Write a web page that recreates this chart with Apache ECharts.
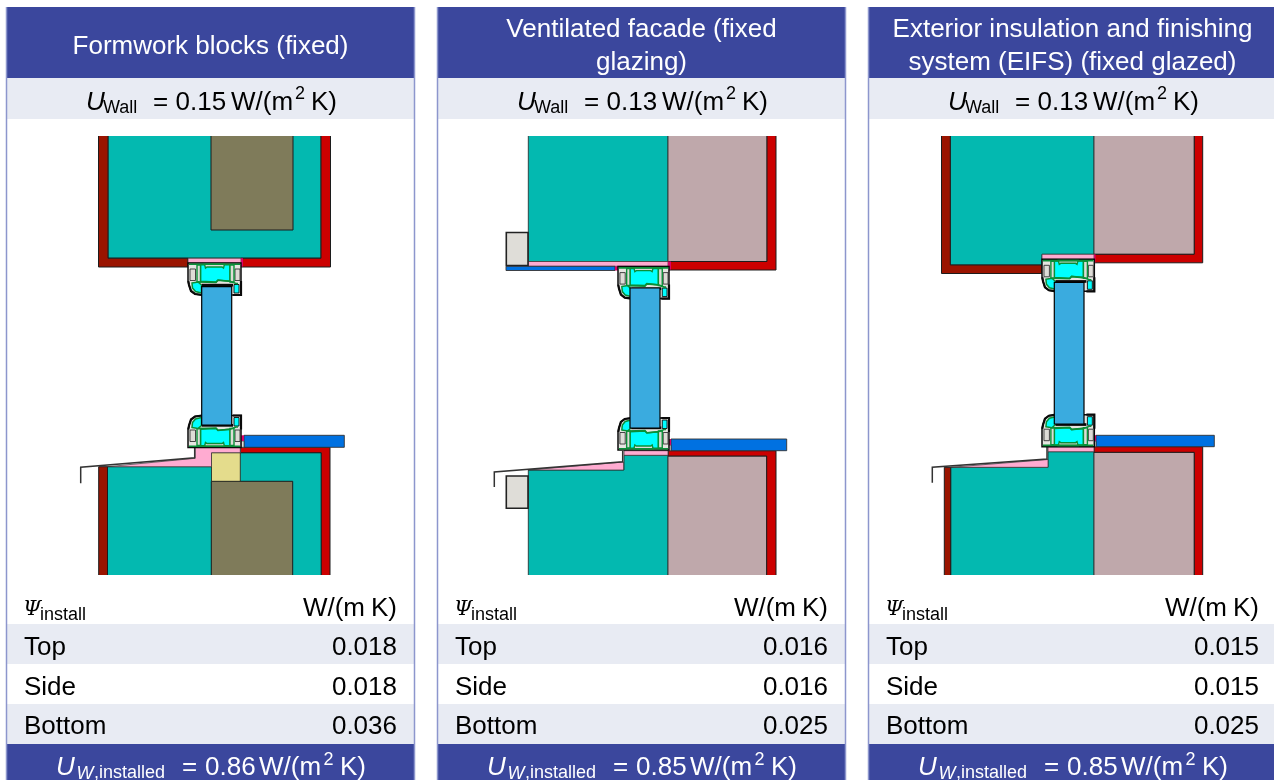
<!DOCTYPE html>
<html><head><meta charset="utf-8">
<style>html,body{margin:0;padding:0;background:#fff}#c{width:1274px;height:780px}</style>
<script src="https://cdn.jsdelivr.net/npm/echarts@6/dist/echarts.min.js"></script>
</head><body><div id="c"></div>
<script>
// ---------- values ----------
const panelLeft = [6.5, 437.5, 868.5];
const titles = [["Formwork blocks (fixed)"], ["Ventilated facade (fixed", "glazing)"], ["Exterior insulation and finishing", "system (EIFS) (fixed glazed)"]];
const uWall = ["0.15", "0.13", "0.13"];
const uInstalled = ["0.86", "0.85", "0.85"];
const rowNames = ["Top", "Side", "Bottom"];
const psiTop = ["0.018", "0.016", "0.015"];
const psiSide = ["0.018", "0.016", "0.015"];
const psiBottom = ["0.036", "0.025", "0.025"];

// ---------- section geometry (drawing units), one list per material ----------
const p1Teal = [
  [[108,130],[321,130],[321,258],[108,258]],
  [[107.5,466.7],[211.7,466.7],[211.7,452.7],[321.3,452.7],[321.3,580],[107.5,580]]];
const p1Olive = [
  [[211,130],[293,130],[293,230],[211,230]],
  [[211.3,481.3],[292.7,481.3],[292.7,580],[211.3,580]]];
const p1Yellow = [[[211.5,452.7],[240.3,452.7],[240.3,481.3],[211.5,481.3]]];
const p1Dark = [
  [[98.5,130],[108,130],[108,258.3],[188,258.3],[188,267],[98.5,267]],
  [[98.7,466.7],[107.5,466.7],[107.5,580],[98.7,580]]];
const p1Red = [
  [[321,130],[330.5,130],[330.5,267],[241,267],[241,258.3],[321,258.3]],
  [[240.3,447.3],[330,447.3],[330,580],[321.3,580],[321.3,452.7],[240.3,452.7]]];
const p1Pink = [
  [[188,258.3],[241,258.3],[241,263],[188,263]],
  [[195,447.3],[240.3,447.3],[240.3,452.7],[211.5,452.7],[211.5,466.7],[107.5,466.7],[195,458.3]]];
const p1Sill = [[[244,435.3],[344.3,435.3],[344.3,447.3],[244,447.3]]];
const p1Magenta = [[[241,258.3],[243,258.3],[243,266.5],[241,266.5]],[[241,435.3],[244,435.3],[244,441],[241,441]]];
const p1Grey = [[[241,441],[244,441],[244,447.3],[241,447.3]]];
const p1Flash = [[[80.7,483.3],[80.7,467.3],[194.7,457.7],[194.7,447.3]]];
const p1Glass = [[[201.7,286.7],[231.7,286.7],[231.7,425],[201.7,425]]];

const p2Teal = [
  [[528.3,130],[668,130],[668,261.5],[528.3,261.5]],
  [[528.3,470],[624,470],[624,455.3],[668,455.3],[668,580],[528.3,580]]];
const p2Rose = [
  [[668,130],[767,130],[767,261.5],[668,261.5]],
  [[668,456],[766.7,456],[766.7,580],[668,580]]];
const p2Red = [
  [[767,130],[776,130],[776,270],[668,270],[668,261.5],[767,261.5]],
  [[668,450.7],[776,450.7],[776,580],[766.7,580],[766.7,456],[668,456]]];
const p2Pink = [
  [[528.3,261.5],[668,261.5],[668,266.3],[528.3,266.3]],
  [[624,450.7],[668,450.7],[668,455.3],[624,455.3]],
  [[528.3,470],[623.5,462],[623.5,470]]];
const p2Sill = [[[506,266.3],[615,266.3],[615,270.5],[506,270.5]],[[671,439],[786.7,439],[786.7,450.7],[671,450.7]]];
const p2Magenta = [[[615,266.3],[618.5,266.3],[618.5,270.5],[615,270.5]],[[668,261.5],[671,261.5],[671,269.5],[668,269.5]],[[668,439],[671,439],[671,445],[668,445]]];
const p2Grey = [[[668,445],[671,445],[671,450.7],[668,450.7]]];
const p2Box = [[[506.3,232.5],[528,232.5],[528,265.5],[506.3,265.5]],[[506.3,476],[528,476],[528,508.3],[506.3,508.3]]];
const p2Flash = [[[494.3,487],[494.3,472],[622.7,461.7],[622.7,451]]];
const p2Glass = [[[630,288],[660,288],[660,428],[630,428]]];

const p3Teal = [
  [[950.3,130],[1094,130],[1094,254.3],[1042,254.3],[1042,265],[950.3,265]],
  [[950.7,467.3],[1048,467.3],[1048,451.7],[1094,451.7],[1094,580],[950.7,580]]];
const p3Rose = [
  [[1094,130],[1194.3,130],[1194.3,254.3],[1094,254.3]],
  [[1094,452.3],[1194.3,452.3],[1194.3,580],[1094,580]]];
const p3Dark = [
  [[941.5,130],[950.3,130],[950.3,265],[1042,265],[1042,273.5],[941.5,273.5]],
  [[944.3,467.3],[950.7,467.3],[950.7,580],[944.3,580]]];
const p3Red = [
  [[1194.3,130],[1202.7,130],[1202.7,262.8],[1094,262.8],[1094,254.3],[1194.3,254.3]],
  [[1094,446.7],[1202.7,446.7],[1202.7,580],[1194.3,580],[1194.3,452.3],[1094,452.3]]];
const p3Pink = [
  [[1042,254.3],[1094,254.3],[1094,259.3],[1042,259.3]],
  [[1048,446.7],[1094,446.7],[1094,451.7],[1048,451.7]],
  [[950.7,467.3],[1048,459.5],[1048,467.3]]];
const p3Sill = [[[1096,435.3],[1214.3,435.3],[1214.3,446.7],[1096,446.7]]];
const p3Magenta = [[[1094,254.3],[1095.5,254.3],[1095.5,262.8],[1094,262.8]],[[1094,435.3],[1096,435.3],[1096,441],[1094,441]]];
const p3Grey = [[[1094,441],[1096,441],[1096,446.7],[1094,446.7]]];
const p3Flash = [[[932.3,482.7],[932.3,467.3],[1047,459],[1047,446.7]]];
const p3Glass = [[[1054.3,282.3],[1084,282.3],[1084,424],[1054.3,424]]];

// window frame profile, in its own units; placed six times below
const frameBody = [[0,0],[53,0],[53,32],[14,32],[7,31],[3,28],[1,22],[0,18]];
const frameCyanMain = [[12.5,1.8],[42,1.8],[42,18.3],[30,17],[28,19],[12.5,18.3]];
const frameCyanLeft = [[4,20],[10,19],[13.5,22],[13.5,30],[7.5,28.5],[4.5,25]];
const frameCyanRight = [[46,21.5],[51,21.5],[51,30],[46,30]];
const frameBump = [[16.5,1.2],[36.5,1.2],[35.5,5],[34,4],[19,4],[17.5,5]];
const frameGreyLeft = [[2,6],[7.5,6],[7.5,17.5],[2,17.5]];
const frameGreyRight = [[47,6],[52,6],[52,17.5],[47,17.5]];
const frameWebLeft = [[9,2],[12.5,2],[12.5,19],[9,19]];
const frameWebRight = [[42,2],[46,2],[46,19],[42,19]];
const frameGreenTop = [[1,1.3],[52,1.3]];
const frameGreenMid = [[10,19],[28,19.5],[30,17.3],[42,18.3],[48,20.5],[50,20.5]];
const frameGasket = [[13.8,20.8],[45,20.8],[45,23.5],[13.8,23.5]];
const frameCurve = [[0.3,18],[1,22],[3,28],[7,31],[14,32]];
const frameEdge = [[45,32],[53,32],[53,18]];
// frame placements: origin x, origin y, x scale, y direction
const framePlace = [[188,263,1,1],[188,447.5,1,-1],[618,266.6,0.962,1],[618,450,0.962,-1],[1042,259.3,0.987,1],[1042,446.7,0.987,-1]];

// layout bands
const rowTop = [7, 78, 119, 624, 664, 704, 744, 780];

// ---------- styles ----------
const ln = '#1c1c1c';
const mat = {
  head:{fill:'#3b479d'}, band:{fill:'#e8ebf3'}, border:{stroke:'#8d96cd',lineWidth:1.5,fill:'none'}, cover:{fill:'#fff'},
  teal:{fill:'#03b9b0',stroke:'#222',lineWidth:.8}, olive:{fill:'#7f7b5a',stroke:ln,lineWidth:1},
  yellow:{fill:'#e4dc8c',stroke:ln,lineWidth:.8}, dark:{fill:'#9a1400',stroke:ln,lineWidth:1},
  red:{fill:'#cc0000',stroke:ln,lineWidth:1}, pink:{fill:'#ffabd1',stroke:'#333',lineWidth:.7},
  rose:{fill:'#bfa8ab',stroke:'#333',lineWidth:.9}, sill:{fill:'#0071e1',stroke:'#333',lineWidth:.9},
  magenta:{fill:'#dc0068'}, grey:{fill:'#dedcd7',stroke:'#333',lineWidth:.7}, box:{fill:'#dfddd8',stroke:'#222',lineWidth:1.6},
  flash:{fill:'none',stroke:'#333',lineWidth:1.5}, glass:{fill:'#3aabdf',stroke:'#000',lineWidth:1.2},
  fBody:{fill:'#e6e5e1',stroke:'#0a0a0a',lineWidth:1.5}, fCyan:{fill:'#00ffff',stroke:'#0a8f38',lineWidth:1.5},
  fCyanB:{fill:'#00ffff',stroke:'#0a0a0a',lineWidth:.9}, fBump:{fill:'#dedcd7',stroke:'#0a8f38',lineWidth:1.4},
  fGrey:{fill:'#dedcd7',stroke:'#333',lineWidth:.9}, fWeb:{fill:'#dedcd7',stroke:'#0a8f38',lineWidth:1.4},
  fLine:{fill:'none',stroke:'#0a8f38',lineWidth:1.6}, fGasket:{fill:'#0a0a0a'}, fBlack:{fill:'none',stroke:'#0a0a0a',lineWidth:2.2}
};

// ---------- assemble ----------
const shapes = [];
const add = (m, polys, open) => polys.forEach(p => shapes.push({m, p, open}));
panelLeft.forEach(x => {
  const r = x + 408;
  add('head', [[[x,rowTop[0]],[r,rowTop[0]],[r,rowTop[1]],[x,rowTop[1]]]]);
  add('band', [[[x,rowTop[1]],[r,rowTop[1]],[r,rowTop[2]],[x,rowTop[2]]]]);
  add('band', [[[x,rowTop[3]],[r,rowTop[3]],[r,rowTop[4]],[x,rowTop[4]]]]);
  add('band', [[[x,rowTop[5]],[r,rowTop[5]],[r,rowTop[6]],[x,rowTop[6]]]]);
  add('head', [[[x,rowTop[6]],[r,rowTop[6]],[r,rowTop[7]],[x,rowTop[7]]]]);
  add('border', [[[x,rowTop[0]],[x,rowTop[7]]],[[r,rowTop[0]],[r,rowTop[7]]]], true);
});
add('teal',p1Teal);add('olive',p1Olive);add('yellow',p1Yellow);add('dark',p1Dark);add('red',p1Red);
add('pink',p1Pink);add('sill',p1Sill);add('grey',p1Grey);add('magenta',p1Magenta);add('flash',p1Flash,true);
add('teal',p2Teal);add('rose',p2Rose);add('red',p2Red);add('pink',p2Pink);add('sill',p2Sill);add('grey',p2Grey);
add('magenta',p2Magenta);add('box',p2Box);add('flash',p2Flash,true);
add('teal',p3Teal);add('rose',p3Rose);add('dark',p3Dark);add('red',p3Red);add('pink',p3Pink);add('sill',p3Sill);
add('grey',p3Grey);add('magenta',p3Magenta);add('flash',p3Flash,true);
panelLeft.forEach(x => {
  add('cover', [[[x+2,125],[x+406,125],[x+406,136],[x+2,136]],[[x+2,575],[x+406,575],[x+406,585],[x+2,585]]]);
});
framePlace.forEach(([ox,oy,sx,dy]) => {
  const t = p => p.map(([a,b]) => [ox+a*sx, oy+b*dy]);
  add('fBody',[t(frameBody)]);
  add('fGrey',[t(frameGreyLeft),t(frameGreyRight)]);
  add('fCyan',[t(frameCyanMain)]);
  add('fWeb',[t(frameWebLeft),t(frameWebRight)]);
  add('fBump',[t(frameBump)]);
  add('fCyan',[t(frameCyanLeft)]);
  add('fCyanB',[t(frameCyanRight)]);
  add('fLine',[t(frameGreenTop),t(frameGreenMid)],true);
  add('fGasket',[t(frameGasket)]);
  add('fBlack',[t(frameCurve),t(frameEdge)],true);
});
add('glass',p1Glass);add('glass',p2Glass);add('glass',p3Glass);

const sans = 'Liberation Sans';
const runs = [];
const put = (s,x,y,size,color,opt={}) => runs.push({s,x,y,size,color,...opt});
panelLeft.forEach((left,i) => {
  const d = left - panelLeft[0], cx = left + 204, R = d + 397, L = d + 24;
  if (titles[i].length === 1) put(titles[i][0],cx,53,26,'#fff',{align:'center'});
  else { put(titles[i][0],cx,36.5,26,'#fff',{align:'center'}); put(titles[i][1],cx,69,26,'#fff',{align:'center'}); }
  // U wall row
  put('U',d+86,109,26,'#000',{italic:true});
  put('Wall',d+103,112.7,18,'#000');
  put('=',d+153,109,26,'#000');
  put(uWall[i],d+175.5,109,26,'#000');
  put('W/(m',d+231,109,26,'#000');
  put('2',d+295,99,18,'#000');
  put('K)',d+311,109,26,'#000');
  // psi header
  put('Ψ',d+23,614.5,21,'#000',{italic:true,family:'DejaVu Serif'});
  put('install',d+40,619.3,18,'#000');
  put('K)',R,615,26,'#000',{align:'right'});
  put('W/(m',R-32,615,26,'#000',{align:'right'});
  // rows
  [psiTop,psiSide,psiBottom].forEach((vals,k) => {
    const b = 654.3 + k*39.6;
    put(rowNames[k],L,b,26,'#000');
    put(vals[i],R,b,26,'#000',{align:'right'});
  });
  // footer
  put('U',d+56,774.5,26,'#fff',{italic:true});
  put('W',d+76.5,778,18,'#fff',{italic:true});
  put(',installed',d+94,778,18,'#fff');
  put('=',d+182,774.5,26,'#fff');
  put(uInstalled[i],d+205,774.5,26,'#fff');
  put('W/(m',d+259,774.5,26,'#fff');
  put('2',d+323.5,765,18,'#fff');
  put('K)',d+340,774.5,26,'#fff');
});

const chart = echarts.init(document.getElementById('c'), null, {renderer:'canvas'});
chart.setOption({
  animation:false,
  grid:{left:0,right:0,top:0,bottom:0},
  xAxis:{type:'value',min:0,max:1274,show:false},
  yAxis:{type:'value',min:0,max:780,inverse:true,show:false},
  series:[
    {type:'custom',coordinateSystem:'cartesian2d',clip:false,silent:true,z:1,
     data:shapes.map((s,i)=>[s.p[0][0],s.p[0][1],i]),encode:{x:0,y:1},
     renderItem:(params,api)=>{
       const s = shapes[api.value(2)];
       const pts = s.p.map(q=>api.coord(q));
       return {type:s.open?'polyline':'polygon',shape:{points:pts},style:Object.assign({},mat[s.m])};
     }},
    {type:'custom',coordinateSystem:'cartesian2d',clip:false,silent:true,z:2,
     data:runs.map((r,i)=>[r.x,r.y,i]),encode:{x:0,y:1},
     renderItem:(params,api)=>{
       const r = runs[api.value(2)];
       const [x,y] = api.coord([r.x,r.y]);
       return {type:'text',style:{text:r.s,x,y:y-0.25*r.size,fill:r.color,
         font:(r.italic?'italic ':'')+r.size+'px "'+(r.family||sans)+'"',
         align:r.align||'left',verticalAlign:'middle'}};
     }}
  ]
});
</script></body></html>
